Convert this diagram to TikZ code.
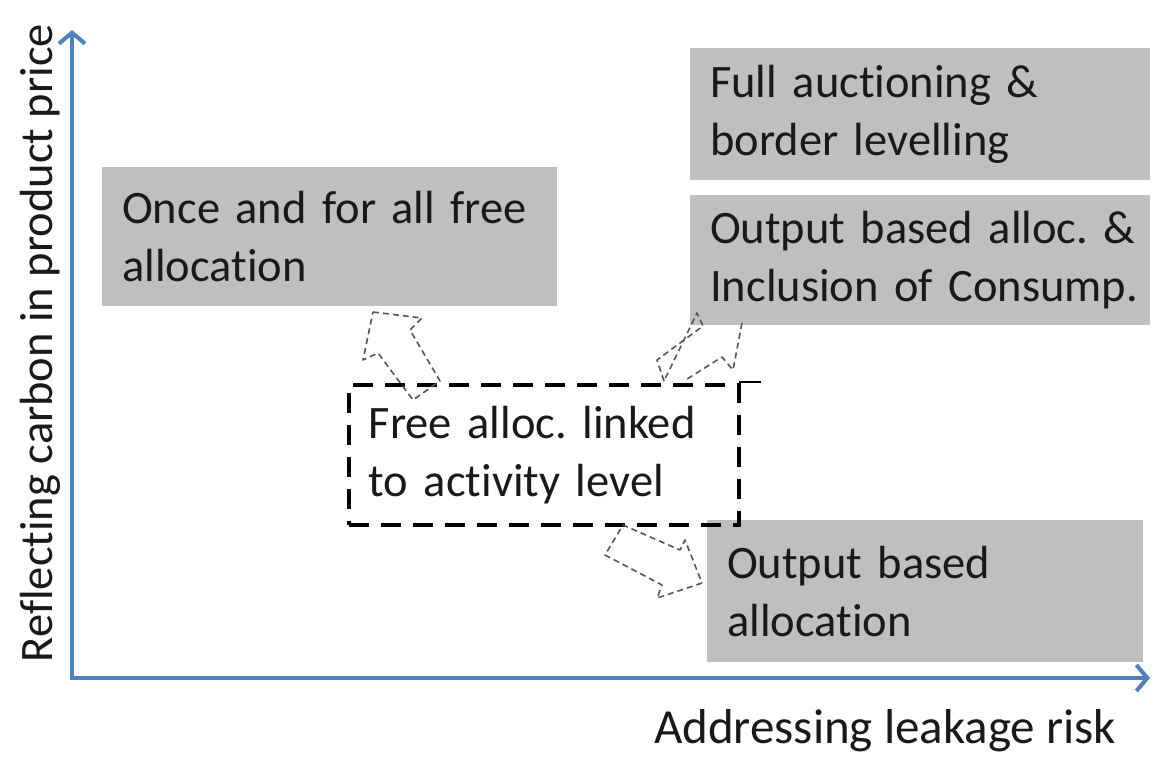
\documentclass[tikz,border=0pt]{standalone}
\usepackage{fontspec}
\setmainfont{Carlito}[Ligatures=NoCommon]
\usetikzlibrary{arrows.meta}
\definecolor{axisblue}{HTML}{4F81BD}
\definecolor{boxgray}{HTML}{BFBFBF}
\definecolor{arrgray}{HTML}{555555}
\begin{document}
\frenchspacing
\begin{tikzpicture}[x=1pt,y=-1pt,
  txt/.style={font=\fontsize{46.5}{58}\selectfont, text=black!90},
  graybox/.style={txt, fill=boxgray, anchor=north west, align=left, inner xsep=20pt, inner ysep=0pt},
  dashbox/.style={txt, draw=black, line width=3.5pt, dash pattern=on 20pt off 12pt, anchor=north west, align=left, inner xsep=20pt, inner ysep=0pt},
  axis/.style={draw=axisblue, line width=4pt, -{Straight Barb[length=11pt,width=26pt,line width=4pt]}},
  blockarrow/.style={draw=arrgray, line width=1.6pt, dash pattern=on 6pt off 4pt, line join=round}
]
\useasboundingbox (0,0) rectangle (1154,756);
\coordinate (o) at (72,678);
\coordinate (ytop) at (72,30);
\coordinate (xend) at (1150,678);
\draw[axis] (72,680) -- (ytop);
\draw[axis] (70,678) -- (xend);
\node[txt, rotate=90] (ylab) at (40,343) {Reflecting carbon in product price};
\node[txt, font=\fontsize{49}{58}\selectfont] (xlab) at (885,731) {Addressing leakage risk};

\node[graybox, minimum width=460pt, minimum height=132pt, text width=420pt] (full) at (690,48) {\mbox{Full auctioning \&}\\\mbox{border levelling}};
\node[graybox, minimum width=460pt, minimum height=130pt, text width=420pt] (oba) at (690,195) {\mbox{Output based alloc. \&}\\\mbox{Inclusion of Consump.}};
\node[graybox, minimum width=455pt, minimum height=139pt, text width=415pt] (once) at (102,167) {\mbox{Once and for all free}\\allocation};
\node[graybox, minimum width=436pt, minimum height=142pt, text width=396pt] (ob) at (707,520) {Output based\\allocation};
\node[dashbox, minimum width=390pt, minimum height=140pt, text width=350pt] (act) at (347,383) {\mbox{Free alloc. linked}\\\mbox{to activity level}};
\draw[line width=2pt] (act.north east) ++(-2,-1) coordinate (ext) -- ++(22,0);

\draw[blockarrow] (373,312) -- (422,318) -- (410,330) -- (440,381) -- (413,400) -- (378,353) -- (363,360) -- cycle;
\draw[blockarrow] (742,323) -- (733,370) -- (722,357) -- (684,381) (664,381) -- (657,360) -- (703,326) -- (697,313) -- cycle;
\draw[blockarrow] (702,583) -- (657,598) -- (662,585) -- (605,555) -- (623,525) -- (680,550) -- (685,540) -- cycle;
\end{tikzpicture}
\end{document}
